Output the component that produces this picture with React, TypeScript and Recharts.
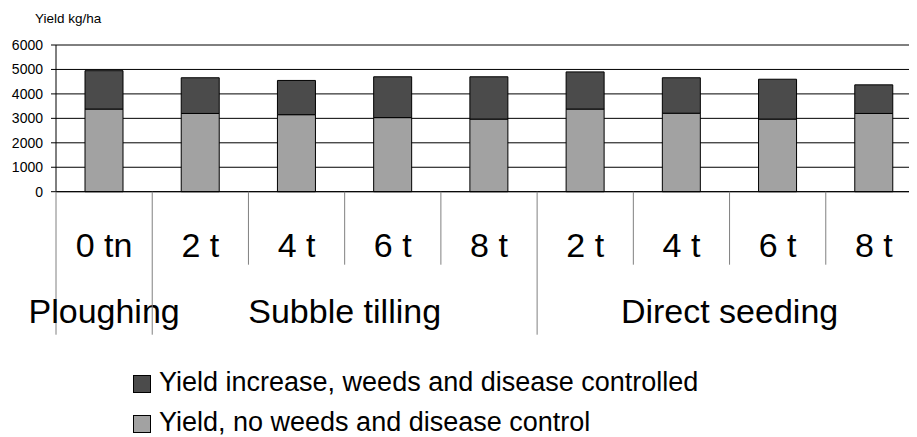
import { BarChart, Bar, XAxis, YAxis, CartesianGrid } from 'recharts';

// Yield per treatment (kg/ha)
const categories = ['0 tn', '2 t', '4 t', '6 t', '8 t', '2 t', '4 t', '6 t', '8 t'];
const baseYield = [3380, 3200, 3150, 3030, 2970, 3380, 3210, 2970, 3200];
const yieldIncrease = [1570, 1460, 1400, 1670, 1730, 1520, 1450, 1630, 1170];
const yTicks = [0, 1000, 2000, 3000, 4000, 5000, 6000];

// Tillage groups: name + first/last category index
const groupNames = ['Ploughing', 'Subble tilling', 'Direct seeding'];
const groupFirst = [0, 1, 5];
const groupLast = [0, 4, 8];

const seriesNames = {
  increase: 'Yield increase, weeds and disease controlled',
  base: 'Yield, no weeds and disease control',
};

const FONT = 'Arial, "Liberation Sans", sans-serif';
const LIGHT = '#a2a2a2';
const DARK = '#4b4b4b';

const CHART_W = 930;
const CHART_H = 340;
const MARGIN = { top: 37, right: 16, left: 0, bottom: 0 };
const Y_AXIS_W = 48;
const X_AXIS_H = 156.3;
const PLOT_BOTTOM = CHART_H - MARGIN.bottom - X_AXIS_H;
const BAND = (CHART_W - MARGIN.right - MARGIN.left - Y_AXIS_W) / categories.length;

const data = categories.map((label, i) => ({
  label,
  base: baseYield[i],
  increase: yieldIncrease[i],
}));

function CategoryTick(props: any) {
  const { x, index, payload } = props;
  const left = x - BAND / 2;
  const g = groupFirst.indexOf(index);
  return (
    <g>
      <line
        x1={left}
        x2={left}
        y1={PLOT_BOTTOM}
        y2={g >= 0 ? PLOT_BOTTOM + 143 : PLOT_BOTTOM + 73}
        stroke="#808080"
        strokeWidth={1}
      />
      <text
        x={x}
        y={PLOT_BOTTOM + 65}
        textAnchor="middle"
        fontSize={34}
        fontFamily={FONT}
        fill="#000"
      >
        {payload.value}
      </text>
      {g >= 0 && (
        <text
          x={left + ((groupLast[g] - groupFirst[g] + 1) * BAND) / 2}
          y={PLOT_BOTTOM + 131}
          textAnchor="middle"
          fontSize={34}
          fontFamily={FONT}
          fill="#000"
        >
          {groupNames[g]}
        </text>
      )}
    </g>
  );
}

function LegendBox({ color, text }: { color: string; text: string }) {
  return (
    <div style={{ display: 'flex', alignItems: 'center', height: 40 }}>
      <span
        style={{
          display: 'inline-block',
          width: 16,
          height: 16,
          background: color,
          border: '1px solid #000',
          marginRight: 8,
          marginTop: 4,
        }}
      />
      <span style={{ fontSize: 27, lineHeight: '27px', color: '#000' }}>{text}</span>
    </div>
  );
}

export default function App() {
  return (
    <div
      style={{
        position: 'relative',
        width: 909,
        height: 429,
        overflow: 'hidden',
        fontFamily: FONT,
        background: '#fff',
      }}
    >
      <BarChart
        width={CHART_W}
        height={CHART_H}
        data={data}
        margin={MARGIN}
        barSize={38}
      >
        <CartesianGrid horizontal vertical={false} stroke="#000" />
        <XAxis
          dataKey="label"
          height={X_AXIS_H}
          interval={0}
          tickLine={false}
          axisLine={{ stroke: '#000' }}
          tick={<CategoryTick />}
        />
        <YAxis
          width={Y_AXIS_W}
          domain={[0, 6000]}
          ticks={yTicks}
          interval={0}
          tickSize={5}
          tickMargin={8}
          axisLine={{ stroke: '#000' }}
          tickLine={{ stroke: '#000' }}
          tick={{ fill: '#000', fontSize: 14, fontFamily: FONT }}
          label={{
            content: ({ viewBox }: any) => (
              <text
                x={viewBox.x + 27}
                y={viewBox.y - 22}
                fontSize={13.5}
                fontFamily={FONT}
                fill="#000"
              >
                Yield kg/ha
              </text>
            ),
          }}
        />
        <Bar
          dataKey="base"
          name={seriesNames.base}
          stackId="a"
          fill={LIGHT}
          stroke="#000"
          strokeWidth={1}
          isAnimationActive={false}
        />
        <Bar
          dataKey="increase"
          name={seriesNames.increase}
          stackId="a"
          fill={DARK}
          stroke="#000"
          strokeWidth={1}
          isAnimationActive={false}
        />
      </BarChart>
      <div style={{ position: 'absolute', left: 125, top: 354 }}>
        <LegendBox color={DARK} text={seriesNames.increase} />
        <LegendBox color={LIGHT} text={seriesNames.base} />
      </div>
    </div>
  );
}
